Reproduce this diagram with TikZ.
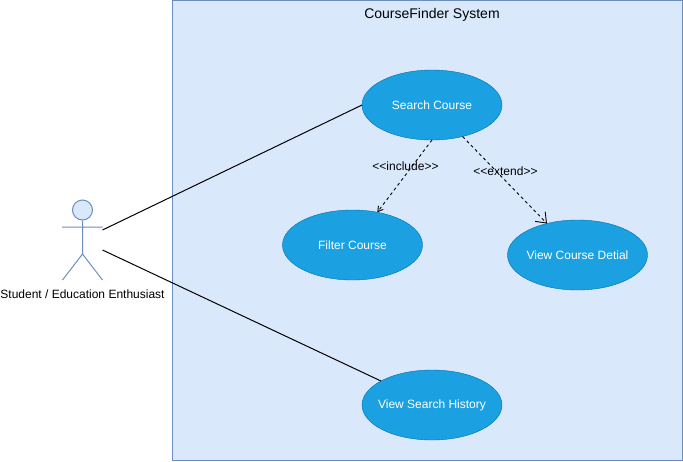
\documentclass[tikz,border=0pt]{standalone}
\usepackage{fontspec}
\setmainfont{Liberation Sans}
\usepackage{xcolor}
\usetikzlibrary{arrows.meta,positioning,shapes.geometric}
\definecolor{sysfill}{HTML}{DAE8FC}
\definecolor{sysline}{HTML}{6C8EBF}
\definecolor{casefill}{HTML}{1BA1E2}
\definecolor{caseline}{HTML}{006EAF}
\newcommand{\casetext}[1]{\makebox[0pt]{#1}}

\begin{document}
\begin{tikzpicture}[x=1pt,y=-1pt,inner sep=1pt,
  usecase/.style={ellipse,draw=caseline,fill=casefill,text=white,font=\fontsize{12}{14}\selectfont,minimum width=140pt,minimum height=70pt,inner sep=0pt,outer sep=0pt},
  label/.style={font=\fontsize{12}{14}\selectfont},
  stick/.style={draw=sysline,line width=1pt},
  dep/.style={dashed,line width=0.9pt,dash pattern=on 3pt off 3pt}]
\useasboundingbox (0,0) rectangle (683,461);
\node[draw=sysline,fill=sysfill,line width=1pt,minimum width=510pt,minimum height=460pt,inner sep=0pt] (system) at (427.5,230.5) {};
\node[label,font=\fontsize{14}{16}\selectfont] (title) at (432,15) {CourseFinder System};

\node[usecase] (search) at (432,105) {\casetext{Search Course}};
\node[usecase] (filter) at (352.5,245) {\casetext{Filter Course}};
\node[usecase] (detail) at (577.5,255) {\casetext{View Course Detial}};
\node[usecase] (history) at (432,405) {\casetext{View Search History}};

% actor
\node[circle,stick,fill=sysfill,minimum size=20pt,inner sep=0pt] (head) at (82.5,210) {};
\coordinate (hip) at (82.5,254);
\coordinate (armL) at (62,227);
\coordinate (armR) at (102.5,227);
\coordinate (legL) at (62.5,280);
\coordinate (legR) at (102.5,280);
\path[stick] (head.south) -- (hip) -- (legL) (hip) -- (legR) (armL) -- (armR);
\node[label] (actor) at (82.5,294) {Student / Education Enthusiast};

\coordinate (actorA) at (102.5,230);
\coordinate (actorB) at (102.5,250);
\draw[line width=1pt] (actorA) -- (search.west);
\draw[line width=1pt] (actorB) -- (history);

\draw[dep,-{Straight Barb[length=5pt,width=6pt]}] (search.south) -- (filter);
\draw[dep,-{Straight Barb[length=9pt,width=14pt]}] (search) -- (detail);
\node[label] (inc) at (405.5,166.5) {{<}{<}include{>}{>}};
\node[label] (ext) at (505.5,171.5) {{<}{<}extend{>}{>}};
\end{tikzpicture}
\end{document}
